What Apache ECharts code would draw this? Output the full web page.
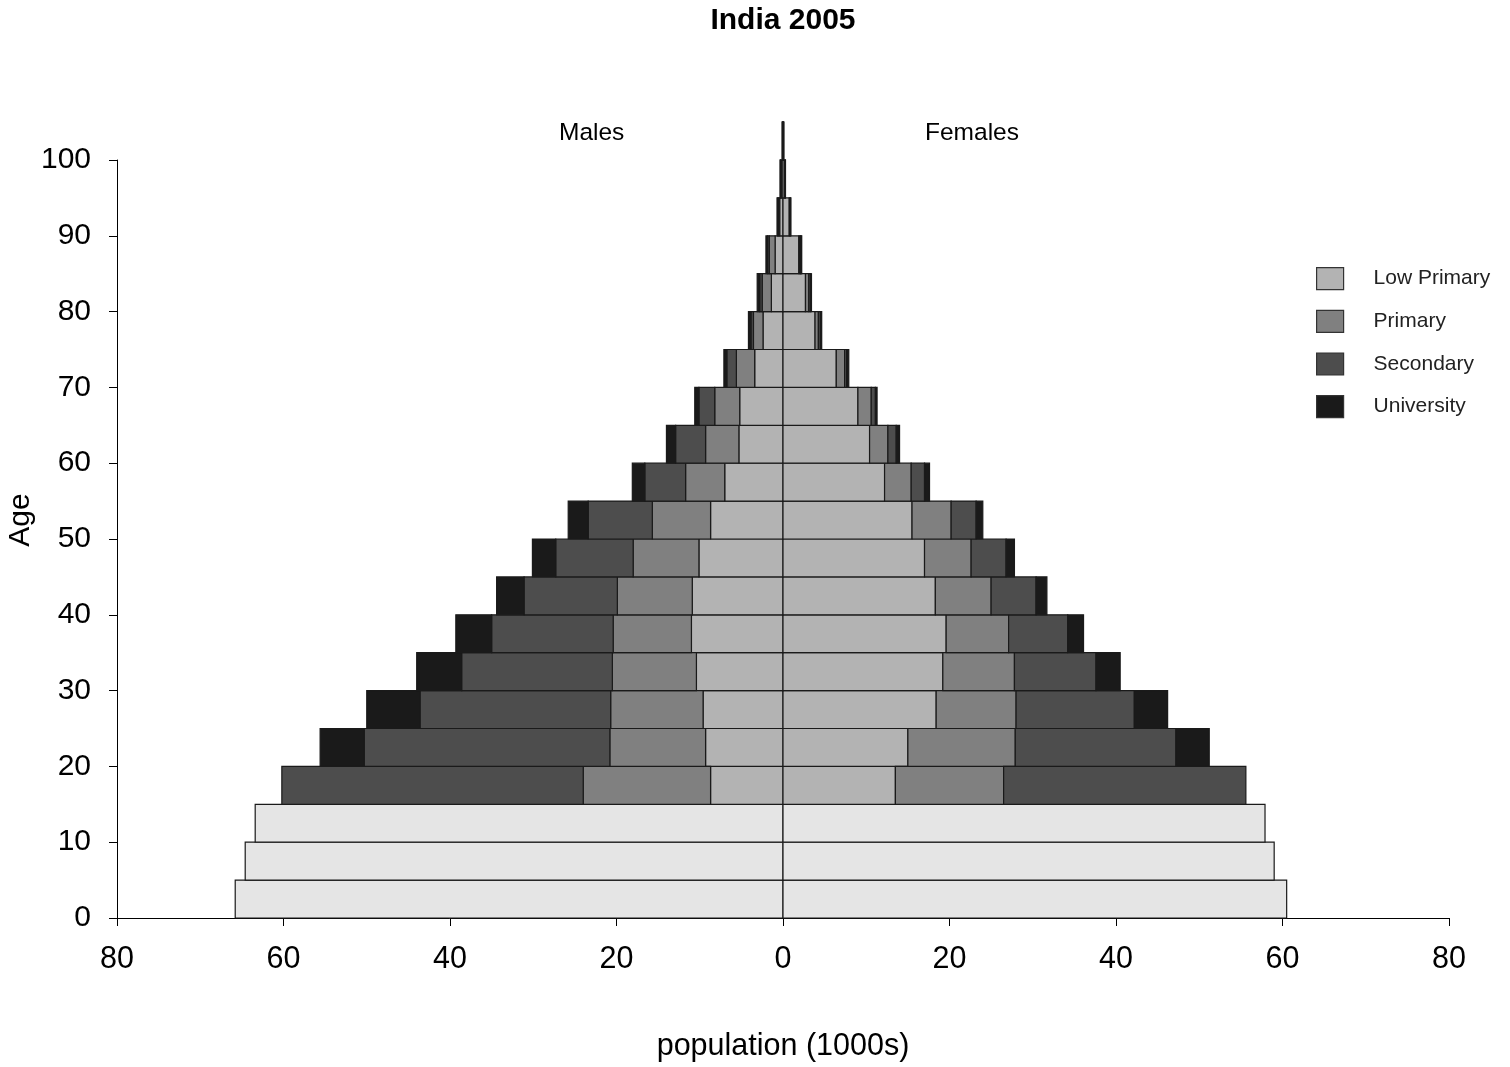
<!DOCTYPE html>
<html>
<head>
<meta charset="utf-8">
<script src="https://cdn.jsdelivr.net/npm/echarts@6/dist/echarts.min.js"></script>
<style>
  html, body { margin: 0; padding: 0; background: #fff; }
  #pyramid { width: 1510px; height: 1067px; }
</style>
</head>
<body>
<div id="pyramid"></div>
<script>
// age groups are 5 years wide, value = start of the group
const youngAges = [0, 5, 10];
const youngMales = [65.8, 64.6, 63.4];
const youngFemales = [60.5, 59.0, 57.9];

const eduAges = [15, 20, 25, 30, 35, 40, 45, 50, 55, 60, 65, 70, 75, 80, 85, 90, 95, 100];

// males, population in 1000s by education level
const lowMales = [8.7, 9.3, 9.6, 10.4, 11.0, 10.9, 10.1, 8.7, 7.0, 5.3, 5.2, 3.4, 2.4, 1.4, 0.95, 0.4, 0.2, 0.05];
const primMales = [15.3, 11.5, 11.1, 10.1, 9.4, 9.0, 7.9, 7.0, 4.7, 4.0, 3.0, 2.2, 1.15, 1.1, 0.7, 0.15, 0.08, 0.02];
const secMales = [36.2, 29.5, 22.9, 18.1, 14.6, 11.2, 9.3, 7.7, 4.9, 3.6, 1.9, 1.15, 0.3, 0.3, 0.2, 0.1, 0.04, 0.01];
const univMales = [0, 5.3, 6.4, 5.4, 4.3, 3.3, 2.8, 2.4, 1.5, 1.1, 0.5, 0.35, 0.3, 0.3, 0.2, 0.07, 0.03, 0.01];

// females
const lowFemales = [13.5, 15.0, 18.4, 19.2, 19.6, 18.3, 17.0, 15.5, 12.2, 10.4, 9.0, 6.4, 3.85, 2.7, 1.9, 0.75, 0.2, 0.05];
const primFemales = [13.0, 12.9, 9.6, 8.6, 7.5, 6.7, 5.6, 4.7, 3.2, 2.2, 1.6, 1.0, 0.4, 0.4, 0.15, 0.1, 0.05, 0.02];
const secFemales = [29.1, 19.3, 14.2, 9.8, 7.1, 5.4, 4.2, 3.0, 1.6, 1.0, 0.5, 0.25, 0.25, 0.2, 0.1, 0.05, 0.03, 0.01];
const univFemales = [0, 4.0, 4.0, 2.9, 1.9, 1.3, 1.0, 0.8, 0.6, 0.4, 0.2, 0.25, 0.15, 0.12, 0.1, 0.05, 0.02, 0.01];

const levelNames = ["Low Primary", "Primary", "Secondary", "University"];
const levelColors = ["#b3b3b3", "#808080", "#4d4d4d", "#1a1a1a"];
const youngColor = "#e5e5e5";
const ageStep = 5;

const maleLevels = [lowMales, primMales, secMales, univMales];
const femaleLevels = [lowFemales, primFemales, secFemales, univFemales];

// rows are [ageStart, xFrom, xTo]; males go to the negative side
function levelRows(idx) {
  let rows = [];
  eduAges.forEach((age, i) => {
    let m0 = 0;
    let f0 = 0;
    for (let k = 0; k < idx; k++) {
      m0 += maleLevels[k][i];
      f0 += femaleLevels[k][i];
    }
    let m = maleLevels[idx][i];
    let f = femaleLevels[idx][i];
    if (m > 0) rows.push([age, -m0, -(m0 + m)]);
    if (f > 0) rows.push([age, f0, f0 + f]);
  });
  return rows;
}

function youngRows() {
  let rows = [];
  youngAges.forEach((age, i) => {
    rows.push([age, 0, -youngMales[i]]);
    rows.push([age, 0, youngFemales[i]]);
  });
  return rows;
}

function renderBlock(params, api) {
  let age = api.value(0);
  let p0 = api.coord([api.value(1), age]);
  let p1 = api.coord([api.value(2), age + ageStep]);
  return {
    type: "rect",
    shape: {
      x: Math.min(p0[0], p1[0]),
      y: p1[1],
      width: Math.abs(p1[0] - p0[0]),
      height: p0[1] - p1[1],
    },
    style: {
      fill: api.visual("color"),
      stroke: "#1a1a1a",
      lineWidth: 1.2,
    },
  };
}

const font = "'Liberation Sans', Arial, Helvetica, sans-serif";

let series = [
  {
    name: "Under 15",
    type: "custom",
    renderItem: renderBlock,
    itemStyle: { color: youngColor },
    encode: { x: [1, 2], y: 0 },
    data: youngRows(),
    silent: true,
  },
];
levelNames.forEach((name, idx) => {
  series.push({
    name: name,
    type: "custom",
    renderItem: renderBlock,
    itemStyle: { color: levelColors[idx], borderColor: "#1a1a1a", borderWidth: 1 },
    encode: { x: [1, 2], y: 0 },
    data: levelRows(idx),
    silent: true,
  });
});

let chart = echarts.init(document.getElementById("pyramid"), null, { renderer: "canvas" });
let option = {
  animation: false,
  backgroundColor: "#ffffff",
  textStyle: { fontFamily: font },
  title: {
    text: "India 2005",
    left: 783,
    top: 6,
    textAlign: "center",
    padding: 0,
    textStyle: { fontFamily: font, fontSize: 30, fontWeight: "bold", color: "#000" },
  },
  grid: {
    left: 117,
    right: 61,
    top: 160,
    bottom: 149,
    outerBoundsMode: "none",
  },
  legend: {
    data: levelNames,
    orient: "vertical",
    left: 1316,
    top: 267,
    padding: 0,
    icon: "rect",
    itemWidth: 27,
    itemHeight: 22,
    itemGap: 19.5,
    itemStyle: { borderColor: "#333", borderWidth: 1.2 },
    textStyle: { fontFamily: font, fontSize: 21, color: "#222", padding: [0, 0, 0, 25] },
  },
  xAxis: {
    type: "value",
    min: -80,
    max: 80,
    interval: 20,
    name: "population (1000s)",
    nameLocation: "middle",
    nameGap: 113,
    nameMoveOverlap: false,
    nameTextStyle: { fontFamily: font, fontSize: 30.5, color: "#000" },
    axisLine: { show: true, onZero: false, lineStyle: { color: "#000", width: 1 } },
    axisTick: { show: true, length: 8, lineStyle: { color: "#000", width: 1 } },
    axisLabel: {
      fontFamily: font,
      fontSize: 30.5,
      color: "#000",
      margin: 26,
      formatter: (v) => String(Math.abs(v)),
    },
    splitLine: { show: false },
  },
  yAxis: {
    type: "value",
    min: 0,
    max: 100,
    interval: 10,
    name: "Age",
    nameLocation: "middle",
    nameGap: 81,
    nameMoveOverlap: false,
    nameTextStyle: { fontFamily: font, fontSize: 30, color: "#000", padding: [0, 0, 0, 38] },
    axisLine: { show: true, onZero: false, lineStyle: { color: "#000", width: 1 } },
    axisTick: { show: true, length: 8, lineStyle: { color: "#000", width: 1 } },
    axisLabel: { fontFamily: font, fontSize: 30, color: "#000", margin: 26 },
    splitLine: { show: false },
  },
  graphic: [
    {
      type: "text",
      left: 559,
      top: 121,
      style: { text: "Males", font: "24.5px " + font, fill: "#000" },
    },
    {
      type: "text",
      left: 925,
      top: 121,
      style: { text: "Females", font: "24.5px " + font, fill: "#000" },
    },
  ],
  series: series,
};
chart.setOption(option);
</script>
</body>
</html>
